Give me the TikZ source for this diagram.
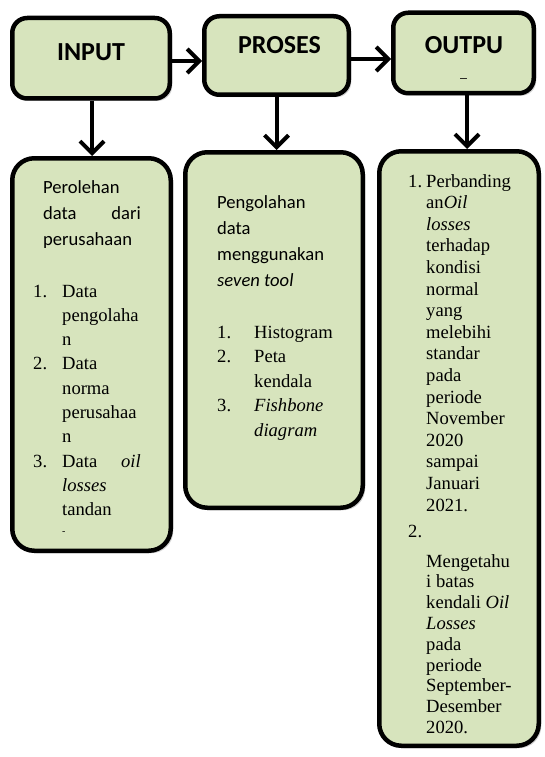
\documentclass[tikz,border=0pt]{standalone}
\usepackage{fontspec}
\setmainfont{Liberation Serif}
\newfontfamily\calfont{Carlito}
\usetikzlibrary{arrows.meta,shadows}
\definecolor{boxgreen}{RGB}{215,228,189}
\begin{document}
\begin{tikzpicture}[x=1pt,y=-1pt,
  box/.style={draw=black, line width=4.5pt, fill=boxgreen, inner sep=0pt,
    drop shadow={shadow xshift=2.5pt, shadow yshift=-2.5pt, opacity=0.35}},
  topbox/.style={box, rounded corners=15pt},
  lowbox/.style={box, rounded corners=22pt},
  arr/.style={line width=4pt, -{Straight Barb[length=12pt,width=24pt,line width=4pt]}},
  title/.style={font=\calfont\bfseries\fontsize{26}{30}\selectfont, inner sep=0pt},
  tnr/.style={font=\fontsize{18.6}{21.6}\selectfont, anchor=base west, inner sep=0pt},
  tnre/.style={tnr, anchor=base east},
  cal/.style={font=\calfont\fontsize{18.6}{22}\selectfont, anchor=base west, inner sep=0pt},
  cale/.style={cal, anchor=base east}
]
\path[use as bounding box, fill=white] (0,0) rectangle (544,757);

% top boxes
\node[topbox, minimum width=157.5pt, minimum height=80.5pt] (input) at (91,58.25) {};
\node[topbox, minimum width=144.5pt, minimum height=78.5pt] (proses) at (276.5,55.5) {};
\node[topbox, minimum width=140.5pt, minimum height=80.5pt] (output) at (463.5,53) {};
\node[title] (tin) at (91,52) {INPUT};
\node[title] (tpr) at (279.5,45) {PROSES};
\node[title] (tou) at (464,45) {OUTPU};
\node[font=\calfont\fontsize{14}{16}\selectfont, inner sep=0pt] (tus) at (463.5,78) {\_};

% lower boxes
\node[lowbox, minimum width=158.5pt, minimum height=392.5pt] (lbox) at (91.5,354.5) {};
\node[lowbox, minimum width=177.5pt, minimum height=355.5pt] (mbox) at (274,330) {};
\node[lowbox, minimum width=159.5pt, minimum height=594.5pt] (rbox) at (459,448.5) {};

% connectors
\draw[arr] ([yshift=-2.75pt]input.east) -- ([yshift=-2.75pt]input.east -| proses.west);
\draw[arr] ([yshift=-3.5pt]proses.east) -- ([yshift=-3.5pt]proses.east -| output.west);
\draw[arr] ([xshift=1pt]input.south) -- ([xshift=1pt]input.south |- lbox.north);
\draw[arr] (proses.south) -- (proses.south |- mbox.north);
\draw[arr] ([xshift=3.5pt]output.south) -- ([xshift=3.5pt]output.south |- rbox.north);

% left box text
\node[cal] (l1) at (43,193) {Perolehan};
\node[cal] (l2a) at (43,219) {data};
\node[cale] (l2b) at (141,219) {dari};
\node[cal] (l3) at (43,245) {perusahaan};
\node[tnr] (l4n) at (33,297) {1.};
\node[tnr] (l4) at (62,297) {Data};
\node[tnr] (l5) at (62,321.3) {pengolaha};
\node[tnr] (l6) at (62,345.6) {n};
\node[tnr] (l7n) at (33,369.9) {2.};
\node[tnr] (l7) at (62,369.9) {Data};
\node[tnr] (l8) at (62,394.2) {norma};
\node[tnr] (l9) at (62,418.5) {perusahaa};
\node[tnr] (l10) at (62,442.8) {n};
\node[tnr] (l11n) at (33,467.1) {3.};
\node[tnr] (l11a) at (62,467.1) {Data};
\node[tnre] (l11b) at (141,467.1) {\textit{oil}};
\node[tnr] (l12) at (62,491.4) {\textit{losses}};
\node[tnr] (l13) at (62,515.7) {tandan};
\node[tnr, font=\fontsize{10}{12}\selectfont] (l14) at (62,534) {-};

% middle box text
\node[cal] (m1) at (217,208) {Pengolahan};
\node[cal] (m2) at (217,234) {data};
\node[cal] (m3) at (217,260) {menggunakan};
\node[cal] (m4) at (217,286) {\textit{seven tool}};
\node[tnr] (m5n) at (217,338) {1.};
\node[tnr] (m5) at (254,338) {Histogram};
\node[tnr] (m6n) at (217,362.5) {2.};
\node[tnr] (m6) at (254,362.5) {Peta};
\node[tnr] (m7) at (254,387) {kendala};
\node[tnr] (m8n) at (217,411.5) {3.};
\node[tnr] (m8) at (254,411.5) {\textit{Fishbone}};
\node[tnr] (m9) at (254,436) {\textit{diagram}};

% right box text
\node[tnr] (r1n) at (408,187) {1.};
\node[tnr] (r1) at (426,187) {Perbanding};
\node[tnr] (r2) at (426,208.6) {an\textit{Oil}};
\node[tnr] (r3) at (426,230.2) {\textit{losses}};
\node[tnr] (r4) at (426,251.8) {terhadap};
\node[tnr] (r5) at (426,273.4) {kondisi};
\node[tnr] (r6) at (426,295) {normal};
\node[tnr] (r7) at (426,316.6) {yang};
\node[tnr] (r8) at (426,338.2) {melebihi};
\node[tnr] (r9) at (426,359.8) {standar};
\node[tnr] (r10) at (426,381.4) {pada};
\node[tnr] (r11) at (426,403) {periode};
\node[tnr] (r12) at (426,424.6) {November};
\node[tnr] (r13) at (426,446.2) {2020};
\node[tnr] (r14) at (426,467.8) {sampai};
\node[tnr] (r15) at (426,489.4) {Januari};
\node[tnr] (r16) at (426,511) {2021.};
\node[tnr] (r17n) at (408,537) {2.};
\node[tnr] (r18) at (426,567) {Mengetahu};
\node[tnr] (r19) at (426,587.8) {i batas};
\node[tnr] (r20) at (426,608.6) {kendali \textit{Oil}};
\node[tnr] (r21) at (426,629.4) {\textit{Losses}};
\node[tnr] (r22) at (426,650.2) {pada};
\node[tnr] (r23) at (426,671) {periode};
\node[tnr] (r24) at (426,691.8) {September-};
\node[tnr] (r25) at (426,712.6) {Desember};
\node[tnr] (r26) at (426,733.4) {2020.};
\end{tikzpicture}
\end{document}
